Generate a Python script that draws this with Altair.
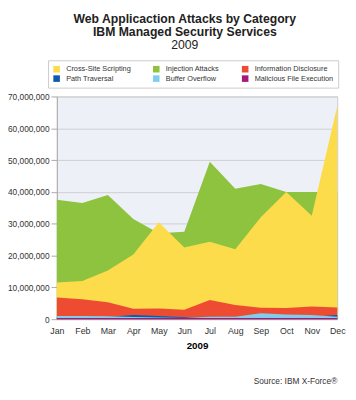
import altair as alt
import pandas as pd

months = ["Jan", "Feb", "Mar", "Apr", "May", "Jun", "Jul", "Aug", "Sep", "Oct", "Nov", "Dec"]

# values in attacks (each series plotted independently, overlapping)
injection = [37.5e6, 36.5e6, 39.0e6, 31.5e6, 27.0e6, 27.5e6, 49.5e6, 41.0e6, 42.5e6, 40.0e6, 40.0e6, 40.0e6]
xss = [11.5e6, 12.0e6, 15.3e6, 20.3e6, 30.5e6, 22.5e6, 24.3e6, 22.0e6, 32.0e6, 40.0e6, 32.5e6, 67.0e6]
info_disc = [6.8e6, 6.3e6, 5.3e6, 3.3e6, 3.4e6, 3.0e6, 6.0e6, 4.5e6, 3.6e6, 3.5e6, 4.0e6, 3.7e6]
path_trav = [0.6e6, 0.6e6, 0.7e6, 1.3e6, 1.0e6, 0.6e6, 0.4e6, 0.5e6, 0.8e6, 0.8e6, 0.8e6, 1.3e6]
buffer_ov = [1.0e6, 1.0e6, 0.9e6, 0.7e6, 0.5e6, 0.4e6, 0.8e6, 0.8e6, 1.9e6, 1.5e6, 1.3e6, 0.8e6]
malicious = [0.4e6, 0.4e6, 0.4e6, 0.4e6, 0.4e6, 0.4e6, 0.4e6, 0.4e6, 0.4e6, 0.4e6, 0.4e6, 0.4e6]

# legend is filled column by column (2 rows x 3 columns)
legend_order = ["Cross-Site Scripting", "Path Traversal", "Injection Attacks",
                "Buffer Overflow", "Information Disclosure", "Malicious File Execution"]
colors = ["#FDDC4B", "#0B5CAC", "#8DC33F", "#80CDF0", "#EE4C32", "#A3197C"]

series = {
    "Injection Attacks": injection,
    "Cross-Site Scripting": xss,
    "Information Disclosure": info_disc,
    "Path Traversal": path_trav,
    "Buffer Overflow": buffer_ov,
    "Malicious File Execution": malicious,
}
draw_order = ["Injection Attacks", "Cross-Site Scripting", "Information Disclosure",
              "Path Traversal", "Buffer Overflow", "Malicious File Execution"]

title_lines = ["Web Applicaction Attacks by Category", "IBM Managed Security Services"]
subtitle = "2009"
source = "Source: IBM X-Force®"

rows = []
for name, vals in series.items():
    for m, v in zip(months, vals):
        rows.append({"Month": m, "Category": name, "Attacks": v})
df = pd.DataFrame(rows)

FONT = "Liberation Sans"

color = alt.Color(
    "Category:N",
    scale=alt.Scale(domain=legend_order, range=colors),
    legend=alt.Legend(
        title=None, orient="none", legendX=-9, legendY=-37, columns=3,
        symbolType="square", symbolSize=45, symbolStrokeWidth=0,
        labelFontSize=7.5, labelFont=FONT, labelColor="#333",
        columnPadding=22, rowPadding=1, padding=5, labelOffset=6,
        strokeColor="#cccccc", fillColor="white", labelLimit=200,
    ),
)

x = alt.X(
    "Month:O", sort=months, scale=alt.Scale(padding=0),
    axis=alt.Axis(title="2009", labelAngle=0, ticks=False, domain=False,
                  labelFontSize=9, labelFont=FONT, labelColor="#333", labelPadding=8,
                  titleFont=FONT, titleFontSize=10, titleFontWeight="bold", titlePadding=5),
)
y = alt.Y(
    "Attacks:Q", scale=alt.Scale(domain=[0, 70e6], nice=False),
    axis=alt.Axis(title=None, values=[i * 10e6 for i in range(8)], format=",d",
                  labelFontSize=8.5, labelFont=FONT, labelColor="#333",
                  tickColor="#aaaaaa", tickSize=6, domainColor="#aaaaaa",
                  gridColor="#cfcfcf", labelPadding=2),
)

layers = []
for name in draw_order:
    layers.append(
        alt.Chart(df).transform_filter(alt.datum.Category == name)
        .mark_area(opacity=1, interpolate="linear")
        .encode(x=x, y=y, color=color)
    )

CX = 131
t1 = alt.Chart(pd.DataFrame({"t": [title_lines[0]]})).mark_text(
    font=FONT, fontSize=12.5, fontWeight="bold", color="#222", align="center", baseline="middle"
).encode(text="t:N", x=alt.value(CX), y=alt.value(-79))
t2 = alt.Chart(pd.DataFrame({"t": [title_lines[1]]})).mark_text(
    font=FONT, fontSize=12.5, fontWeight="bold", color="#222", align="center", baseline="middle"
).encode(text="t:N", x=alt.value(CX), y=alt.value(-66))
t3 = alt.Chart(pd.DataFrame({"t": [subtitle]})).mark_text(
    font=FONT, fontSize=12.5, color="#222", align="center", baseline="middle"
).encode(text="t:N", x=alt.value(CX), y=alt.value(-53))
t4 = alt.Chart(pd.DataFrame({"t": [source]})).mark_text(
    font=FONT, fontSize=8.5, color="#333", align="right", baseline="middle"
).encode(text="t:N", x=alt.value(287), y=alt.value(291))

chart = alt.layer(*layers, t1, t2, t3, t4).properties(
    width=287, height=228,
    autosize=alt.AutoSizeParams(type="none"),
    padding={"left": 50, "top": 86, "right": 11, "bottom": 70},
).configure_view(
    fill="#EEF0F8", stroke="#cccccc"
).configure_axis(gridWidth=1)

chart.save("out.html", embed_options={"renderer": "svg", "actions": False})
